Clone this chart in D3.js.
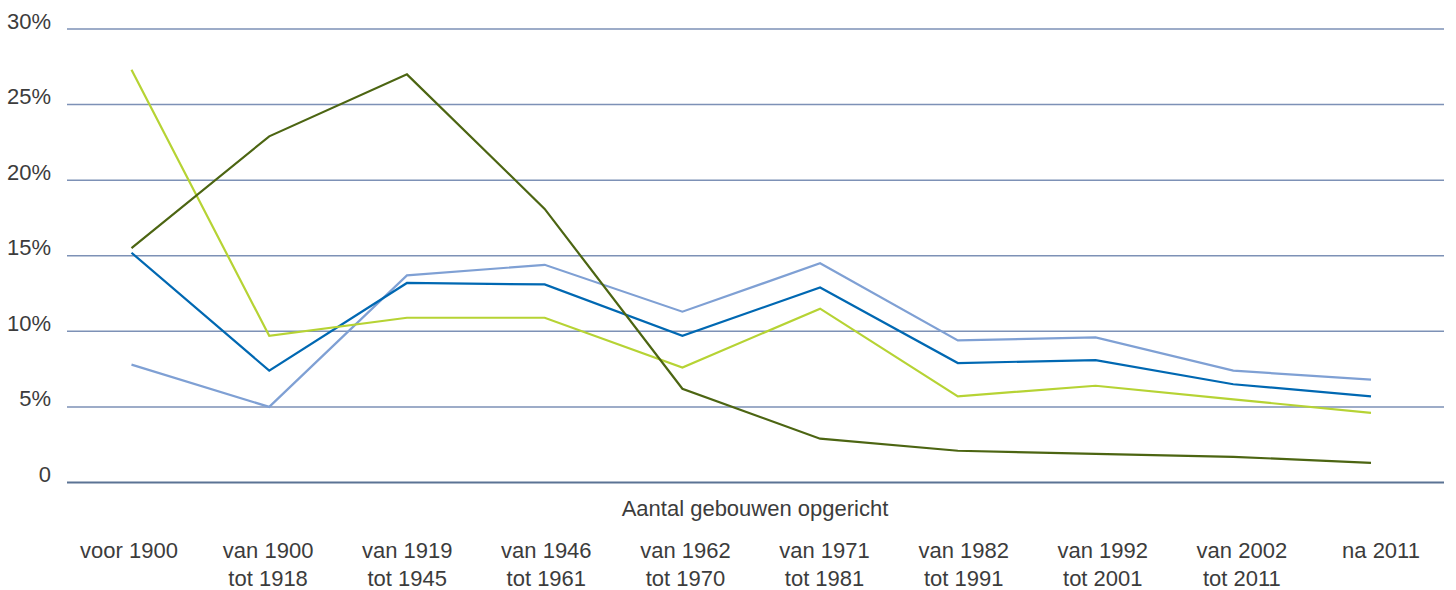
<!DOCTYPE html>
<html>
<head>
<meta charset="utf-8">
<script src="https://cdn.jsdelivr.net/npm/d3@7"></script>
<style>
  html, body { margin: 0; padding: 0; background: #fff; }
  svg text { font-family: "Liberation Sans", Arial, sans-serif; fill: #3c3c3c; }
</style>
</head>
<body>
<svg id="chart" width="1456" height="590"></svg>
<script>
// Building age classes
const categories = [
  "voor 1900", "van 1900|tot 1918", "van 1919|tot 1945", "van 1946|tot 1961",
  "van 1962|tot 1970", "van 1971|tot 1981", "van 1982|tot 1991",
  "van 1992|tot 2001", "van 2002|tot 2011", "na 2011"
];

// Shares per age class (%)
const seriesLightBlue = [7.8, 5.0, 13.7, 14.4, 11.3, 14.5, 9.4, 9.6, 7.4, 6.8];
const seriesBlue      = [15.2, 7.4, 13.2, 13.1, 9.7, 12.9, 7.9, 8.1, 6.5, 5.7];
const seriesGreen     = [27.3, 9.7, 10.9, 10.9, 7.6, 11.5, 5.7, 6.4, 5.5, 4.6];
const seriesOlive     = [15.5, 22.9, 27.0, 18.1, 6.2, 2.9, 2.1, 1.9, 1.7, 1.3];

const yTicks = [0, 5, 10, 15, 20, 25, 30];
const yTickLabels = ["0", "5%", "10%", "15%", "20%", "25%", "30%"];
const xTitle = "Aantal gebouwen opgericht";

const series = [
  { values: seriesLightBlue, color: "#7fa0d4" },
  { values: seriesBlue,      color: "#0068b2" },
  { values: seriesGreen,     color: "#b6d334" },
  { values: seriesOlive,     color: "#4c6512" }
];

const svg = d3.select("#chart");

const y = d3.scaleLinear().domain([0, 30]).range([482.5, 29]);
const x = d3.scalePoint().domain(categories).range([131.5, 1371]);
const xLabel = d3.scalePoint().domain(categories).range([129, 1381]);

const gridLeft = 67, gridRight = 1444;

// Horizontal gridlines
svg.append("g").selectAll("line")
  .data(yTicks)
  .join("line")
  .attr("x1", gridLeft)
  .attr("x2", gridRight)
  .attr("y1", d => y(d))
  .attr("y2", d => y(d))
  .attr("stroke", d => d === 0 ? "#5b7394" : "#7d91b6")
  .attr("stroke-width", d => d === 0 ? 2 : 1.5);

// Y tick labels
svg.append("g").selectAll("text")
  .data(yTicks)
  .join("text")
  .attr("x", 51)
  .attr("y", d => y(d) - 0.5)
  .attr("text-anchor", "end")
  .style("font-size", "22px")
  .text((d, i) => yTickLabels[i]);

// Lines
const line = d3.line()
  .x((d, i) => x(categories[i]))
  .y(d => y(d));

svg.append("g").selectAll("path")
  .data(series)
  .join("path")
  .attr("d", s => line(s.values))
  .attr("fill", "none")
  .attr("stroke", s => s.color)
  .attr("stroke-width", 2.2)
  .attr("stroke-linejoin", "miter");

// X axis title
svg.append("text")
  .attr("x", 755)
  .attr("y", 516)
  .attr("text-anchor", "middle")
  .style("font-size", "22px")
  .text(xTitle);

// Category labels (two lines)
const labels = svg.append("g").selectAll("text")
  .data(categories)
  .join("text")
  .attr("text-anchor", "middle")
  .style("font-size", "22px");

labels.selectAll("tspan")
  .data(d => d.split("|").map(t => ({ t, c: d })))
  .join("tspan")
  .attr("x", d => xLabel(d.c))
  .attr("y", (d, i) => 558 + i * 28)
  .text(d => d.t);
</script>
</body>
</html>
